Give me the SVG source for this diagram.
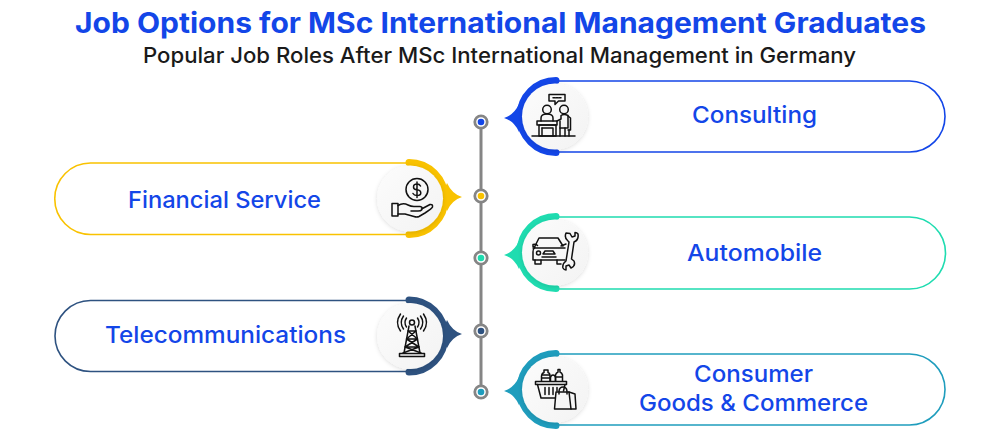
<svg xmlns="http://www.w3.org/2000/svg" width="1000" height="446" viewBox="0 0 1000 446">
<defs>
<filter id="sh" x="-30%" y="-30%" width="160%" height="160%"><feDropShadow dx="0" dy="1" stdDeviation="2.2" flood-color="#000" flood-opacity="0.14"/></filter>
<linearGradient id="disc" x1="0" y1="0" x2="1" y2="1"><stop offset="0" stop-color="#fcfcfc"/><stop offset="1" stop-color="#f3f3f3"/></linearGradient>
</defs>
<style>
text{font-family:"Inter","Liberation Sans",sans-serif}
.t1{font-size:28px;font-weight:700;fill:#1346e8}
.t2{font-size:21px;font-weight:500;fill:#1a1a1a}
.lb{font-size:23px;font-weight:500;fill:#1346e8;text-anchor:start}
.pill{fill:#fff;stroke-width:1.6}
.arc{fill:none;stroke-width:7;stroke-linecap:round}
.disc{fill:url(#disc);filter:url(#sh)}
.ic{fill:none;stroke:#111;stroke-width:1.5;stroke-linejoin:round;stroke-linecap:round}
.dot{fill:#fff;stroke:#858585;stroke-width:2.8}
</style>
<rect width="1000" height="446" fill="#fff"/>
<text class="t1" x="75" y="32.500" textLength="851" lengthAdjust="spacingAndGlyphs">Job Options for MSc International Management Graduates</text>
<text class="t2" x="143" y="63" textLength="713" lengthAdjust="spacingAndGlyphs">Popular Job Roles After MSc International Management in Germany</text>

<g id="connectors">
<line x1="481" y1="122" x2="481" y2="392" stroke="#858585" stroke-width="3"/>
<circle class="dot" cx="481" cy="122" r="6.200"/><circle cx="481" cy="122" r="3.300" fill="#1346e8"/>
<circle class="dot" cx="481" cy="196" r="6.200"/><circle cx="481" cy="196" r="3.300" fill="#f9c200"/>
<circle class="dot" cx="481" cy="258" r="6.200"/><circle cx="481" cy="258" r="3.300" fill="#1fdcb0"/>
<circle class="dot" cx="481" cy="331" r="6.200"/><circle cx="481" cy="331" r="3.300" fill="#2e5280"/>
<circle class="dot" cx="481" cy="392" r="6.200"/><circle cx="481" cy="392" r="3.300" fill="#1f9dbd"/>
</g>

<g id="node-consulting">
<path class="pill" stroke="#1346e8" d="M555 81H909.500a35.500 35.500 0 0 1 0 71H555Z"/>
<path class="arc" stroke="#1346e8" d="M556 80.500A36 36 0 0 0 556 152.500"/>
<path fill="#1346e8" d="M504 118Q514 115 519 104L525 118L519 132Q514 121 504 118Z"/>
<circle class="disc" cx="555" cy="116.500" r="33"/>
<g class="ic">
<path d="M532 136H575"/>
<path d="M549 94.500H565V101H558.500L555 104.500V101H549Z"/><path d="M553 97.800H561" stroke-dasharray="2 1"/>
<circle cx="547" cy="109.500" r="4.300"/><circle cx="564" cy="109.500" r="4.300"/>
<path d="M541 121V118Q541 114 547 114Q553 114 553 118V121"/>
<path d="M537 121H557V125H537Z"/><path d="M539 125H556V136H539Z"/><path d="M542 128H553V136"/><path d="M542 128V136"/>
<path d="M557 121L561 119V115.500Q564 113.500 568 115.500V128H560V136"/><path d="M568 116L570.500 118V130H568"/><path d="M560 128V121"/><path d="M565 128V136M569 130V136"/>
</g>
<text class="lb" x="692" y="123" textLength="125" lengthAdjust="spacingAndGlyphs">Consulting</text>
</g>

<g id="node-financial">
<path class="pill" stroke="#f9c200" d="M410 163H90.500a35.500 35.500 0 0 0 0 71.500H410Z"/>
<path class="arc" stroke="#f9c200" d="M409 162.500A36 36 0 0 1 409 234.500"/>
<path fill="#f9c200" d="M462 197Q452 194 447 183L441 197L447 211Q452 200 462 197Z"/>
<circle class="disc" cx="410" cy="198.500" r="33"/>
<g class="ic">
<circle cx="417" cy="189.500" r="11"/>
<path d="M420.500 186Q419.500 184 417 184Q413.500 184 413.500 187Q413.500 189.500 417 189.800Q420.800 190.200 420.800 193Q420.800 195.500 417 195.500Q414 195.500 413 193.500M417 182V197.500"/>
<path d="M392 203.500H398V216H392Z"/>
<path d="M398 205.500Q403 202.500 408 205Q411 206.500 414 206.500H420Q423 207 422 209.500Q421 211 418 211H411M421.500 209L430 204.500Q433 204 432.500 207Q432 208.500 425 213L419 216.500Q417 217.500 414 216.500L405 214H398"/>
</g>
<text class="lb" x="128" y="208" textLength="193" lengthAdjust="spacingAndGlyphs">Financial Service</text>
</g>

<g id="node-automobile">
<path class="pill" stroke="#1fdcb0" d="M555 217H909.500a36 36 0 0 1 0 72H555Z"/>
<path class="arc" stroke="#1fdcb0" d="M556 216.500A36 36 0 0 0 556 288.500"/>
<path fill="#1fdcb0" d="M504 255Q514 252 519 241L525 255L519 269Q514 258 504 255Z"/>
<circle class="disc" cx="555" cy="252.500" r="33"/>
<g class="ic">
<path d="M535 246L539 238H558L563 246"/>
<path d="M537.500 245.500Q536 243.500 533 244.500V246.500L535 247Q533 249 533 252V260H565"/>
<path d="M535 260V264H541V260M557 260V264H561"/>
<path d="M543 254H555L553 251H545ZM542 257H556"/>
<circle cx="538.500" cy="253" r="2"/>
<path d="M561 246L566 244"/><path d="M533 248H565"/>
<path d="M566 233Q564 238 568 241L569 242L566 261Q562 264 563 268Q564 270 566 270V266L569 265L571 268Q576 266 574 261L571.500 259L574 242Q579 240 578 234Q577 232.500 575 232.500L575 236L572 237L570 233.500Q568 233 566 233Z"/>
</g>
<text class="lb" x="687" y="261" textLength="135" lengthAdjust="spacingAndGlyphs">Automobile</text>
</g>

<g id="node-telecom">
<path class="pill" stroke="#2e5280" d="M410 300.500H90.500a35.500 35.500 0 0 0 0 71H410Z"/>
<path class="arc" stroke="#2e5280" d="M409 300A36 36 0 0 1 409 372"/>
<path fill="#2e5280" d="M462 334Q452 331 447 320L441 334L447 348Q452 337 462 334Z"/>
<circle class="disc" cx="410" cy="336" r="33"/>
<g class="ic">
<circle cx="412" cy="322.500" r="2.500"/>
<path d="M406.500 327Q403.500 322.500 406.500 318M417.500 327Q420.500 322.500 417.500 318"/>
<path d="M403.500 329Q399 322.500 403.500 316M420.500 329Q425 322.500 420.500 316"/>
<path d="M400.500 331Q394.500 322.500 400.500 314M423.500 331Q429.500 322.500 423.500 314"/>
<path d="M409 326L404 353M415 326L420 353"/>
<path d="M408 331H416M406.500 339H417.500M405 347H419M408 331L417.500 339L405 347M416 331L406.500 339L419 347M403 353L419 347M421 353L405 347"/>
<path d="M399.500 353.500H424.500V356.500H399.500Z"/>
</g>
<text class="lb" x="105" y="343" textLength="241" lengthAdjust="spacingAndGlyphs">Telecommunications</text>
</g>

<g id="node-consumer">
<path class="pill" stroke="#1f9dbd" d="M555 354H909.500a35.500 35.500 0 0 1 0 71H555Z"/>
<path class="arc" stroke="#1f9dbd" d="M556 353.500A36 36 0 0 0 556 425.500"/>
<path fill="#1f9dbd" d="M504 391Q514 388 519 377L525 391L519 405Q514 394 504 391Z"/>
<circle class="disc" cx="555" cy="389.500" r="33"/>
<g class="ic">
<path d="M541.500 381V376Q542 373 544 372.500V370H548V372.500Q550 373 550 376V381M542 375H550M541.500 378H550"/>
<path d="M550.500 381V377.500Q551 375 553 375Q555 375 555.500 377.500V381"/>
<path d="M555.500 381V375Q556 373 558 372V369.500H560V372Q562 373 562.500 375V381M555.500 377H562.500"/>
<path d="M535.500 381.500H566.500V384.500H535.500Z"/>
<path d="M537.500 384.500L541 398H555M565 384.500L563.500 391"/>
<path d="M545 387.500V394.500M549 387.500V394.500M553 387.500V394.500M557 387.500V391"/>
<path d="M556 392H569L571 409H554.500Z"/><path d="M569 392L575 394L576 409H571"/>
<path d="M559 394V391Q559.500 387 563 387Q566.500 387 567 391V394"/>
</g>
<text class="lb" x="694" y="382" textLength="119" lengthAdjust="spacingAndGlyphs">Consumer</text>
<text class="lb" x="639" y="411" textLength="229" lengthAdjust="spacingAndGlyphs">Goods &amp; Commerce</text>
</g>
</svg>
